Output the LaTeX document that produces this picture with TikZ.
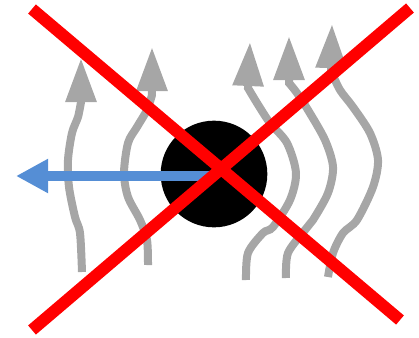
\documentclass[tikz,border=0pt]{standalone}
\usepackage{tikz}
\usetikzlibrary{arrows.meta}
\definecolor{flowgray}{HTML}{A6A6A6}
\definecolor{pushblue}{HTML}{558ED5}

\begin{document}
\begin{tikzpicture}[
  x=0.75pt, y=-0.75pt,
  flow/.style={draw=flowgray, line width=6pt,
               -{Triangle[length=33pt, width=22pt]}},
  push/.style={draw=pushblue, line width=7.5pt,
               -{Triangle[length=24pt, width=24pt]}},
  cross/.style={draw=red, line width=9pt},
  ball/.style={circle, fill=black, minimum size=80pt, inner sep=0pt}
]
  \useasboundingbox (0,0) rectangle (419,337);

  % streamlines
  \draw[flow] plot[smooth] coordinates {(82,272) (80,233) (75,217) (69,187) (68,160) (72,133) (78,117) (81,102)} -- (81,58);
  \draw[flow] plot[smooth] coordinates {(148,265) (147,240) (140,220) (128,197) (124,173) (128,143) (137,127) (147,110) (152,95)} -- (152,47);
  \draw[flow] plot[smooth] coordinates {(246,280) (248,253) (263,233) (273,227) (290,200) (296,173) (287,143) (270,123) (257,103) (248,88)} -- (250,42);
  \draw[flow] plot[smooth] coordinates {(286,278) (288,253) (305,230) (313,220) (328,193) (333,167) (325,140) (308,110) (297,93) (289,83)} -- (289,36);
  \draw[flow] plot[smooth] coordinates {(328,277) (333,253) (343,233) (357,220) (373,187) (378,160) (370,133) (353,107) (340,90) (331,71)} -- (332,24);

  \node[ball] (ball) at (214,174) {};
  \coordinate (left) at (16,176);
  \draw[push] (ball.center |- left) -- (left);

  % crossed out
  \coordinate (tl) at (32,9);
  \coordinate (br) at (400,320);
  \coordinate (tr) at (410,8);
  \coordinate (bl) at (32,330);
  \draw[cross] (tl) -- (br);
  \draw[cross] (tr) -- (bl);
\end{tikzpicture}
\end{document}
